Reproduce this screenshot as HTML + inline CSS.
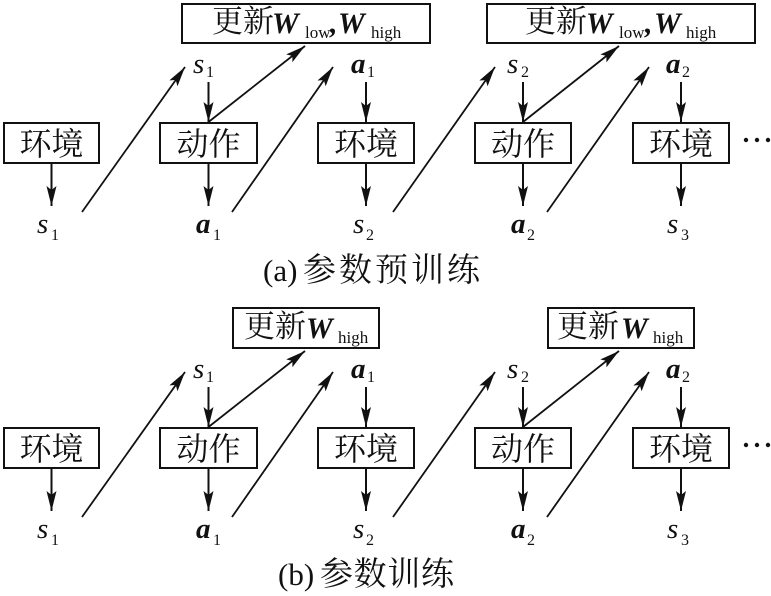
<!DOCTYPE html>
<html><head><meta charset="utf-8">
<style>
html,body{margin:0;padding:0;background:#fff;}
svg{display:block;}
.cj{font-family:"Liberation Serif","Noto Serif CJK SC","Noto Sans CJK SC",serif;fill:#111;}
.it{font-family:"Liberation Serif",serif;font-style:italic;fill:#111;}
.bi{font-family:"Liberation Serif",serif;font-style:italic;font-weight:bold;fill:#111;}
.rm{font-family:"Liberation Serif",serif;fill:#111;}
.box{fill:#fff;stroke:#111;stroke-width:2;}
.ln{stroke:#111;stroke-width:1.8;fill:none;}
.vl{stroke:#111;stroke-width:2;fill:none;}
</style></head>
<body>
<svg width="771" height="596" viewBox="0 0 771 596" xmlns="http://www.w3.org/2000/svg">
<defs>
<marker id="ah" markerUnits="userSpaceOnUse" markerWidth="22" markerHeight="12" refX="20" refY="5" orient="auto">
<path d="M0,0 L20,5 L0,10 L4,5 z" fill="#111"/>
</marker>
</defs>

<!-- ============ Panel (a) top boxes ============ -->
<rect class="box" x="182" y="4" width="248" height="39"/>
<text class="cj" x="212" y="32" font-size="31">更新</text>
<text class="bi" x="272" y="33" font-size="30">W</text>
<text class="rm" x="305" y="38" font-size="17">low</text>
<text class="bi" x="330" y="33" font-size="30">,</text>
<text class="bi" x="338" y="33" font-size="30">W</text>
<text class="rm" x="371" y="38" font-size="17">high</text>

<rect class="box" x="487" y="4" width="268" height="39"/>
<text class="cj" x="525" y="32" font-size="31">更新</text>
<text class="bi" x="586" y="33" font-size="30">W</text>
<text class="rm" x="619" y="38" font-size="17">low</text>
<text class="bi" x="645" y="33" font-size="30">,</text>
<text class="bi" x="654" y="33" font-size="30">W</text>
<text class="rm" x="686" y="38" font-size="17">high</text>

<!-- ============ Panel (b) top boxes ============ -->
<rect class="box" x="233" y="308" width="146" height="40"/>
<text class="cj" x="244" y="337" font-size="31">更新</text>
<text class="bi" x="306" y="338" font-size="30">W</text>
<text class="rm" x="338" y="343" font-size="17">high</text>

<rect class="box" x="548" y="308" width="146" height="40"/>
<text class="cj" x="557" y="337" font-size="31">更新</text>
<text class="bi" x="621" y="338" font-size="30">W</text>
<text class="rm" x="653" y="343" font-size="17">high</text>

<!-- ============ Shared chain (a) ============ -->
<g>
<rect class="box" x="4" y="123" width="95" height="40"/>
<text class="cj" x="51.5" y="155" font-size="32" text-anchor="middle">环境</text>
<rect class="box" x="160" y="123" width="97" height="40"/>
<text class="cj" x="208.5" y="155" font-size="32" text-anchor="middle">动作</text>
<rect class="box" x="318" y="123" width="96" height="40"/>
<text class="cj" x="366" y="155" font-size="32" text-anchor="middle">环境</text>
<rect class="box" x="475" y="123" width="96" height="40"/>
<text class="cj" x="523" y="155" font-size="32" text-anchor="middle">动作</text>
<rect class="box" x="633" y="123" width="96" height="40"/>
<text class="cj" x="681" y="155" font-size="32" text-anchor="middle">环境</text>

<circle cx="746" cy="140" r="2.2" fill="#111"/>
<circle cx="757" cy="140" r="2.2" fill="#111"/>
<circle cx="768" cy="140" r="2.2" fill="#111"/>

<line class="vl" x1="51.5" y1="164" x2="51.5" y2="206" marker-end="url(#ah)"/>
<line class="vl" x1="208.5" y1="82" x2="208.5" y2="122" marker-end="url(#ah)"/>
<line class="vl" x1="208.5" y1="164" x2="208.5" y2="206" marker-end="url(#ah)"/>
<line class="vl" x1="366" y1="82" x2="366" y2="122" marker-end="url(#ah)"/>
<line class="vl" x1="366" y1="164" x2="366" y2="206" marker-end="url(#ah)"/>
<line class="vl" x1="523" y1="82" x2="523" y2="122" marker-end="url(#ah)"/>
<line class="vl" x1="523" y1="164" x2="523" y2="206" marker-end="url(#ah)"/>
<line class="vl" x1="681" y1="82" x2="681" y2="122" marker-end="url(#ah)"/>
<line class="vl" x1="681" y1="164" x2="681" y2="206" marker-end="url(#ah)"/>

<line class="ln" x1="82" y1="212" x2="185" y2="67" marker-end="url(#ah)"/>
<line class="ln" x1="232" y1="212" x2="333" y2="67" marker-end="url(#ah)"/>
<line class="ln" x1="393" y1="212" x2="495" y2="67" marker-end="url(#ah)"/>
<line class="ln" x1="547" y1="212" x2="649" y2="67" marker-end="url(#ah)"/>
<line class="ln" x1="208.5" y1="122" x2="305" y2="46" marker-end="url(#ah)"/>
<line class="ln" x1="523" y1="122" x2="619" y2="46" marker-end="url(#ah)"/>

<text class="it" x="193" y="73" font-size="29">s</text><text class="rm" x="206" y="77" font-size="16">1</text>
<text class="bi" x="351" y="73" font-size="29">a</text><text class="rm" x="367" y="77" font-size="16">1</text>
<text class="it" x="507" y="73" font-size="29">s</text><text class="rm" x="521" y="77" font-size="16">2</text>
<text class="bi" x="666" y="73" font-size="29">a</text><text class="rm" x="682" y="77" font-size="16">2</text>

<text class="it" x="37" y="233" font-size="29">s</text><text class="rm" x="51" y="240" font-size="16">1</text>
<text class="bi" x="196" y="233" font-size="29">a</text><text class="rm" x="213" y="240" font-size="16">1</text>
<text class="it" x="353" y="233" font-size="29">s</text><text class="rm" x="366" y="240" font-size="16">2</text>
<text class="bi" x="511" y="233" font-size="29">a</text><text class="rm" x="527" y="240" font-size="16">2</text>
<text class="it" x="667" y="233" font-size="29">s</text><text class="rm" x="681" y="240" font-size="16">3</text>
</g>

<!-- ============ Shared chain (b) ============ -->
<g transform="translate(0,305)">
<rect class="box" x="4" y="123" width="95" height="40"/>
<text class="cj" x="51.5" y="155" font-size="32" text-anchor="middle">环境</text>
<rect class="box" x="160" y="123" width="97" height="40"/>
<text class="cj" x="208.5" y="155" font-size="32" text-anchor="middle">动作</text>
<rect class="box" x="318" y="123" width="96" height="40"/>
<text class="cj" x="366" y="155" font-size="32" text-anchor="middle">环境</text>
<rect class="box" x="475" y="123" width="96" height="40"/>
<text class="cj" x="523" y="155" font-size="32" text-anchor="middle">动作</text>
<rect class="box" x="633" y="123" width="96" height="40"/>
<text class="cj" x="681" y="155" font-size="32" text-anchor="middle">环境</text>

<circle cx="746" cy="140" r="2.2" fill="#111"/>
<circle cx="757" cy="140" r="2.2" fill="#111"/>
<circle cx="768" cy="140" r="2.2" fill="#111"/>

<line class="vl" x1="51.5" y1="164" x2="51.5" y2="206" marker-end="url(#ah)"/>
<line class="vl" x1="208.5" y1="82" x2="208.5" y2="122" marker-end="url(#ah)"/>
<line class="vl" x1="208.5" y1="164" x2="208.5" y2="206" marker-end="url(#ah)"/>
<line class="vl" x1="366" y1="82" x2="366" y2="122" marker-end="url(#ah)"/>
<line class="vl" x1="366" y1="164" x2="366" y2="206" marker-end="url(#ah)"/>
<line class="vl" x1="523" y1="82" x2="523" y2="122" marker-end="url(#ah)"/>
<line class="vl" x1="523" y1="164" x2="523" y2="206" marker-end="url(#ah)"/>
<line class="vl" x1="681" y1="82" x2="681" y2="122" marker-end="url(#ah)"/>
<line class="vl" x1="681" y1="164" x2="681" y2="206" marker-end="url(#ah)"/>

<line class="ln" x1="82" y1="212" x2="185" y2="67" marker-end="url(#ah)"/>
<line class="ln" x1="232" y1="212" x2="333" y2="67" marker-end="url(#ah)"/>
<line class="ln" x1="393" y1="212" x2="495" y2="67" marker-end="url(#ah)"/>
<line class="ln" x1="547" y1="212" x2="649" y2="67" marker-end="url(#ah)"/>
<line class="ln" x1="208.5" y1="122" x2="305" y2="46" marker-end="url(#ah)"/>
<line class="ln" x1="523" y1="122" x2="619" y2="46" marker-end="url(#ah)"/>

<text class="it" x="193" y="73" font-size="29">s</text><text class="rm" x="206" y="77" font-size="16">1</text>
<text class="bi" x="351" y="73" font-size="29">a</text><text class="rm" x="367" y="77" font-size="16">1</text>
<text class="it" x="507" y="73" font-size="29">s</text><text class="rm" x="521" y="77" font-size="16">2</text>
<text class="bi" x="666" y="73" font-size="29">a</text><text class="rm" x="682" y="77" font-size="16">2</text>

<text class="it" x="37" y="233" font-size="29">s</text><text class="rm" x="51" y="240" font-size="16">1</text>
<text class="bi" x="196" y="233" font-size="29">a</text><text class="rm" x="213" y="240" font-size="16">1</text>
<text class="it" x="353" y="233" font-size="29">s</text><text class="rm" x="366" y="240" font-size="16">2</text>
<text class="bi" x="511" y="233" font-size="29">a</text><text class="rm" x="527" y="240" font-size="16">2</text>
<text class="it" x="667" y="233" font-size="29">s</text><text class="rm" x="681" y="240" font-size="16">3</text>
</g>

<!-- ============ Captions ============ -->
<text class="rm" x="263" y="281" font-size="31">(a)</text>
<text class="cj" x="303" y="281" font-size="33" textLength="177" lengthAdjust="spacing">参数预训练</text>

<text class="rm" x="278" y="585" font-size="31">(b)</text>
<text class="cj" x="320" y="585" font-size="33" textLength="134" lengthAdjust="spacing">参数训练</text>
</svg>
</body></html>
